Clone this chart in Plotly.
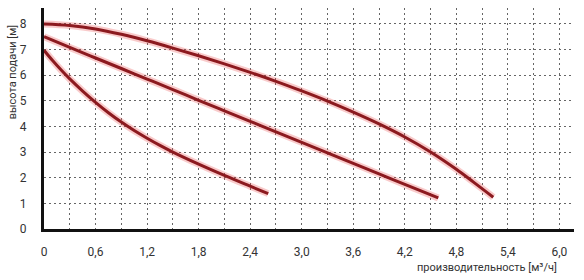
import plotly.graph_objects as go

# Data (flow m3/h, head m)
c1_x = [0, 0.3, 0.6, 0.9, 1.2, 1.5, 1.8, 2.1, 2.4, 2.7, 3.0, 3.3, 3.6, 3.9, 4.2, 4.5, 4.8, 5.0, 5.23]
c1_y = [8.0, 7.94, 7.805, 7.595, 7.34, 7.055, 6.755, 6.44, 6.11, 5.76, 5.385, 4.99, 4.56, 4.1, 3.59, 3.005, 2.33, 1.83, 1.24]

c2_x = [0, 0.3, 0.6, 0.9, 1.2, 1.5, 1.8, 2.1, 2.4, 2.7, 3.0, 3.3, 3.6, 3.9, 4.2, 4.59]
c2_y = [7.5, 7.08, 6.67, 6.26, 5.85, 5.44, 5.02, 4.61, 4.2, 3.79, 3.38, 2.97, 2.56, 2.15, 1.74, 1.21]

c3_x = [0, 0.1, 0.2, 0.3, 0.45, 0.6, 0.75, 0.9, 1.05, 1.2, 1.35, 1.5, 1.8, 2.1, 2.4, 2.61]
c3_y = [6.97, 6.57, 6.2, 5.855, 5.38, 4.94, 4.535, 4.17, 3.84, 3.54, 3.26, 3.0, 2.53, 2.09, 1.67, 1.38]

x_tickvals = [0, 0.6, 1.2, 1.8, 2.4, 3.0, 3.6, 4.2, 4.8, 5.4, 6.0]
x_ticktext = ["0", "0,6", "1,2", "1,8", "2,4", "3,0", "3,6", "4,2", "4,8", "5,4", "6,0"]
y_tickvals = [0, 1, 2, 3, 4, 5, 6, 7, 8]

x_title = "производительность [м³/ч]"
y_title = "высота подачи [м]"

LINE = "#8c1a1f"
GLOW = "rgba(235,70,70,0.28)"
GRID = "#666666"
FONT = "Roboto"

fig = go.Figure()
for xs, ys in [(c1_x, c1_y), (c2_x, c2_y), (c3_x, c3_y)]:
    fig.add_trace(go.Scatter(x=xs, y=ys, mode="lines",
                             line=dict(color=GLOW, width=7, shape="spline", smoothing=1),
                             hoverinfo="skip", showlegend=False))
    fig.add_trace(go.Scatter(x=xs, y=ys, mode="lines",
                             line=dict(color=LINE, width=3, shape="spline", smoothing=1),
                             showlegend=False))

fig.update_layout(
    width=584, height=280,
    margin=dict(l=44, r=10, t=8, b=51),
    paper_bgcolor="white", plot_bgcolor="white",
    font=dict(family=FONT, size=12, color="#333333"),
    showlegend=False,
)
fig.update_xaxes(
    range=[0, 6.17], tickvals=x_tickvals, ticktext=x_ticktext,
    showgrid=True, gridcolor=GRID, griddash="2px,3px", gridwidth=1,
    minor=dict(dtick=0.3, tick0=0, showgrid=True, gridcolor=GRID, griddash="2px,3px", gridwidth=1),
    showline=True, linecolor="#111111", linewidth=3,
    zeroline=False, ticks="", ticklabelstandoff=10,
    tickfont=dict(family=FONT, size=12, color="#333333"),
)
fig.update_yaxes(
    range=[0, 8.62], tickvals=y_tickvals,
    showgrid=True, gridcolor=GRID, griddash="2px,3px", gridwidth=1,
    showline=True, linecolor="#111111", linewidth=3,
    zeroline=False, ticks="", ticklabelstandoff=12,
    tickfont=dict(family=FONT, size=12, color="#333333"),
)
fig.add_annotation(text=x_title, xref="x", yref="paper", x=6.0, y=-0.172,
                   xanchor="right", yanchor="middle", showarrow=False,
                   font=dict(family=FONT, size=11, color="#333333"))
fig.add_annotation(text=y_title, xref="paper", yref="y", x=-0.06, y=8.05,
                   xanchor="center", yanchor="top", textangle=-90, showarrow=False,
                   font=dict(family=FONT, size=11, color="#333333"))

fig.write_html("out.html")
